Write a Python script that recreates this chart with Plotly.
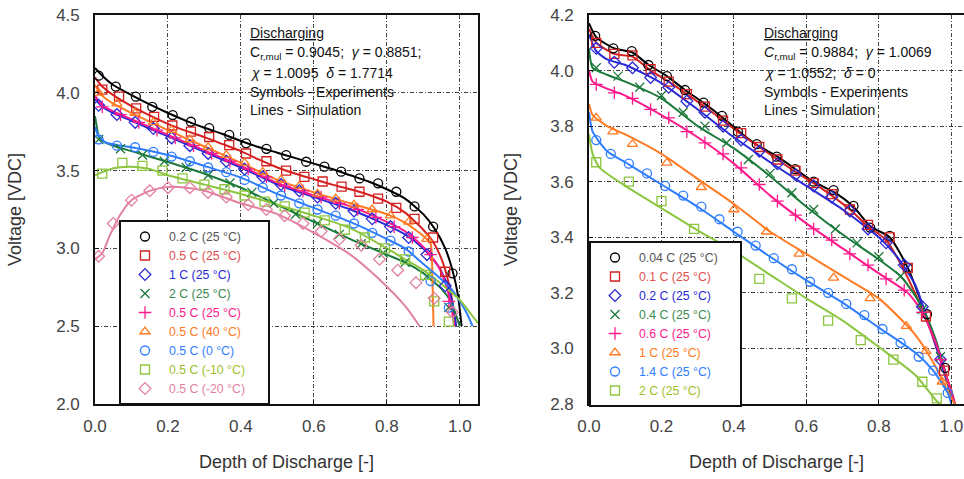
import plotly.graph_objects as go

# ---------------- LEFT PANEL DATA (Depth of discharge [-], Voltage [VDC]) ----------------
L1_sim_d = [0, 0.02, 0.05, 0.1, 0.15, 0.2, 0.25, 0.3, 0.35, 0.4, 0.45, 0.5, 0.55, 0.6, 0.65, 0.7, 0.75, 0.8, 0.85, 0.9, 0.93, 0.96, 0.98, 0.995, 1.005]
L1_sim_v = [4.16, 4.11, 4.05, 3.985, 3.925, 3.87, 3.82, 3.775, 3.735, 3.69, 3.65, 3.615, 3.58, 3.545, 3.51, 3.47, 3.43, 3.38, 3.32, 3.22, 3.13, 3.0, 2.86, 2.7, 2.5]
L1_exp_d = [0.01, 0.057, 0.112, 0.157, 0.213, 0.263, 0.313, 0.368, 0.414, 0.47, 0.524, 0.579, 0.629, 0.675, 0.725, 0.776, 0.826, 0.876, 0.927, 0.98]
L1_exp_v = [4.11, 4.04, 3.975, 3.91, 3.857, 3.814, 3.773, 3.729, 3.675, 3.64, 3.60, 3.557, 3.525, 3.493, 3.45, 3.418, 3.364, 3.27, 3.14, 2.84]

L2_sim_d = [0, 0.02, 0.05, 0.1, 0.15, 0.2, 0.25, 0.3, 0.35, 0.4, 0.45, 0.5, 0.55, 0.6, 0.65, 0.7, 0.75, 0.8, 0.85, 0.9, 0.93, 0.955, 0.975, 0.99]
L2_sim_v = [4.10, 4.04, 3.985, 3.915, 3.855, 3.80, 3.755, 3.715, 3.67, 3.625, 3.57, 3.52, 3.48, 3.445, 3.41, 3.38, 3.345, 3.30, 3.23, 3.12, 3.03, 2.90, 2.72, 2.5]
L2_exp_d = [0.02, 0.066, 0.113, 0.162, 0.212, 0.263, 0.313, 0.368, 0.414, 0.47, 0.524, 0.574, 0.624, 0.676, 0.725, 0.776, 0.826, 0.876, 0.927, 0.96]
L2_exp_v = [4.02, 3.975, 3.90, 3.845, 3.79, 3.75, 3.716, 3.664, 3.61, 3.56, 3.50, 3.46, 3.43, 3.397, 3.364, 3.32, 3.26, 3.19, 3.07, 2.85]

L3_sim_d = [0, 0.02, 0.05, 0.1, 0.2, 0.3, 0.4, 0.5, 0.6, 0.7, 0.8, 0.85, 0.9, 0.94, 0.965, 0.98, 0.99]
L3_sim_v = [3.96, 3.91, 3.87, 3.82, 3.72, 3.62, 3.52, 3.41, 3.33, 3.25, 3.15, 3.09, 3.00, 2.89, 2.77, 2.65, 2.5]
L3_exp_d = [0.01, 0.06, 0.11, 0.16, 0.21, 0.26, 0.31, 0.36, 0.41, 0.46, 0.51, 0.56, 0.61, 0.66, 0.71, 0.76, 0.81, 0.86, 0.91, 0.96]
L3_exp_v = [3.92, 3.86, 3.81, 3.77, 3.71, 3.66, 3.61, 3.56, 3.51, 3.46, 3.41, 3.37, 3.33, 3.29, 3.24, 3.19, 3.14, 3.07, 2.96, 2.76]

L4_sim_d = [0, 0.005, 0.01, 0.02, 0.05, 0.1, 0.2, 0.3, 0.4, 0.5, 0.6, 0.7, 0.8, 0.85, 0.9, 0.95, 0.975, 0.99, 1.0]
L4_sim_v = [3.85, 3.78, 3.72, 3.69, 3.66, 3.625, 3.555, 3.48, 3.39, 3.28, 3.17, 3.06, 2.96, 2.91, 2.84, 2.74, 2.66, 2.57, 2.5]
L4_exp_d = [0.01, 0.07, 0.13, 0.19, 0.25, 0.31, 0.37, 0.43, 0.49, 0.55, 0.61, 0.67, 0.73, 0.79, 0.85, 0.91, 0.97]
L4_exp_v = [3.70, 3.64, 3.60, 3.56, 3.52, 3.47, 3.42, 3.36, 3.29, 3.22, 3.16, 3.09, 3.03, 2.97, 2.91, 2.82, 2.62]

L5_sim_d = [0, 0.02, 0.05, 0.1, 0.2, 0.3, 0.4, 0.5, 0.6, 0.7, 0.8, 0.85, 0.9, 0.94, 0.96, 0.975, 0.985]
L5_sim_v = [3.98, 3.92, 3.88, 3.83, 3.73, 3.63, 3.53, 3.42, 3.34, 3.27, 3.17, 3.11, 3.01, 2.89, 2.78, 2.65, 2.5]
L5_exp_d = [0.02, 0.07, 0.12, 0.17, 0.22, 0.27, 0.32, 0.37, 0.42, 0.47, 0.52, 0.57, 0.62, 0.67, 0.72, 0.77, 0.82, 0.87, 0.92, 0.97]
L5_exp_v = [3.91, 3.86, 3.81, 3.76, 3.71, 3.66, 3.61, 3.56, 3.51, 3.46, 3.40, 3.37, 3.33, 3.29, 3.25, 3.20, 3.14, 3.07, 2.96, 2.66]

L6_sim_d = [0, 0.02, 0.05, 0.1, 0.2, 0.3, 0.4, 0.5, 0.6, 0.7, 0.8, 0.85, 0.9, 0.92, 0.925, 0.928]
L6_sim_v = [4.05, 3.98, 3.93, 3.87, 3.76, 3.655, 3.55, 3.44, 3.36, 3.29, 3.22, 3.165, 3.08, 3.03, 2.8, 2.5]
L6_exp_d = [0.01, 0.06, 0.11, 0.16, 0.21, 0.26, 0.31, 0.36, 0.41, 0.46, 0.51, 0.56, 0.61, 0.66, 0.71, 0.76, 0.81, 0.86, 0.91]
L6_exp_v = [4.0, 3.93, 3.87, 3.81, 3.76, 3.70, 3.65, 3.60, 3.55, 3.49, 3.44, 3.40, 3.35, 3.32, 3.28, 3.25, 3.21, 3.17, 3.06]

L7_sim_d = [0, 0.01, 0.03, 0.06, 0.1, 0.2, 0.3, 0.4, 0.5, 0.6, 0.7, 0.8, 0.85, 0.9, 0.95, 0.98, 1.0, 1.02, 1.035]
L7_sim_v = [3.78, 3.72, 3.68, 3.665, 3.65, 3.60, 3.53, 3.455, 3.35, 3.26, 3.17, 3.06, 3.0, 2.90, 2.80, 2.73, 2.66, 2.58, 2.5]
L7_exp_d = [0.01, 0.06, 0.11, 0.16, 0.21, 0.26, 0.31, 0.36, 0.41, 0.46, 0.51, 0.56, 0.61, 0.66, 0.71, 0.76, 0.81, 0.86, 0.92, 0.97]
L7_exp_v = [3.70, 3.66, 3.65, 3.62, 3.59, 3.56, 3.52, 3.49, 3.44, 3.39, 3.34, 3.29, 3.25, 3.21, 3.16, 3.10, 3.05, 2.98, 2.79, 2.62]

L8_sim_d = [0, 0.02, 0.05, 0.1, 0.15, 0.2, 0.3, 0.4, 0.5, 0.6, 0.7, 0.8, 0.85, 0.9, 0.95, 1.0, 1.03, 1.05]
L8_sim_v = [3.47, 3.49, 3.515, 3.525, 3.51, 3.47, 3.41, 3.35, 3.28, 3.21, 3.13, 3.0, 2.93, 2.86, 2.77, 2.67, 2.58, 2.52]
L8_exp_d = [0.02, 0.075, 0.13, 0.185, 0.24, 0.3, 0.355, 0.41, 0.465, 0.52, 0.575, 0.63, 0.685, 0.74, 0.795, 0.85, 0.905, 0.93, 0.97]
L8_exp_v = [3.48, 3.55, 3.53, 3.50, 3.45, 3.41, 3.38, 3.34, 3.30, 3.27, 3.23, 3.18, 3.12, 3.07, 3.00, 2.93, 2.83, 2.66, 2.53]

L9_sim_d = [0, 0.02, 0.04, 0.07, 0.1, 0.15, 0.2, 0.25, 0.3, 0.4, 0.5, 0.6, 0.7, 0.78, 0.85, 0.89]
L9_sim_v = [2.93, 2.97, 3.08, 3.22, 3.31, 3.37, 3.395, 3.39, 3.37, 3.29, 3.22, 3.10, 2.96, 2.80, 2.63, 2.5]
L9_exp_d = [0.01, 0.05, 0.1, 0.15, 0.2, 0.26, 0.31, 0.36, 0.42, 0.47, 0.52, 0.57, 0.62, 0.67, 0.73, 0.78, 0.83, 0.88, 0.93, 0.98]
L9_exp_v = [2.95, 3.16, 3.31, 3.37, 3.39, 3.39, 3.36, 3.33, 3.28, 3.25, 3.21, 3.16, 3.11, 3.06, 3.02, 2.93, 2.86, 2.78, 2.68, 2.59]

LEFT_LABELS = ["0.2 C (25 °C)", "0.5 C (25 °C)", "1 C (25 °C)", "2 C (25 °C)", "0.5 C (25 °C)",
               "0.5 C (40 °C)", "0.5 C (0 °C)", "0.5 C (-10 °C)", "0.5 C (-20 °C)"]

# ---------------- RIGHT PANEL DATA ----------------
R1_sim_d = [0, 0.02, 0.07, 0.12, 0.165, 0.215, 0.265, 0.315, 0.365, 0.41, 0.46, 0.52, 0.57, 0.62, 0.68, 0.73, 0.776, 0.83, 0.88, 0.93, 0.98, 1.005]
R1_sim_v = [4.17, 4.12, 4.08, 4.065, 4.02, 3.98, 3.93, 3.885, 3.835, 3.785, 3.735, 3.69, 3.645, 3.60, 3.56, 3.51, 3.44, 3.40, 3.29, 3.12, 2.93, 2.81]
R1_exp_d = [0.017, 0.067, 0.118, 0.164, 0.215, 0.265, 0.316, 0.367, 0.411, 0.463, 0.518, 0.569, 0.62, 0.675, 0.73, 0.776, 0.83, 0.88, 0.933, 0.983]
R1_exp_v = [4.125, 4.08, 4.07, 4.02, 3.98, 3.93, 3.885, 3.837, 3.78, 3.735, 3.69, 3.645, 3.60, 3.57, 3.513, 3.435, 3.405, 3.29, 3.123, 2.93]

R2_sim_d = [0, 0.02, 0.07, 0.12, 0.17, 0.22, 0.27, 0.32, 0.37, 0.42, 0.47, 0.52, 0.57, 0.62, 0.67, 0.72, 0.77, 0.82, 0.87, 0.93, 0.98, 1.0, 1.01]
R2_sim_v = [4.15, 4.10, 4.06, 4.05, 4.0, 3.96, 3.915, 3.87, 3.82, 3.77, 3.725, 3.68, 3.635, 3.595, 3.55, 3.50, 3.44, 3.39, 3.28, 3.11, 2.92, 2.85, 2.80]
R2_exp_d = [0.02, 0.07, 0.12, 0.17, 0.22, 0.27, 0.32, 0.37, 0.42, 0.47, 0.52, 0.57, 0.62, 0.67, 0.72, 0.77, 0.83, 0.88, 0.93, 0.98]
R2_exp_v = [4.10, 4.06, 4.055, 4.005, 3.96, 3.915, 3.87, 3.82, 3.775, 3.725, 3.68, 3.64, 3.595, 3.555, 3.50, 3.445, 3.40, 3.29, 3.115, 2.92]

R3_sim_d = [0, 0.02, 0.05, 0.1, 0.15, 0.2, 0.3, 0.4, 0.5, 0.6, 0.7, 0.8, 0.85, 0.9, 0.93, 0.96, 0.99, 1.01]
R3_sim_v = [4.13, 4.07, 4.04, 4.02, 3.99, 3.955, 3.86, 3.76, 3.67, 3.585, 3.50, 3.40, 3.33, 3.23, 3.12, 3.0, 2.87, 2.80]
R3_exp_d = [0.02, 0.07, 0.12, 0.17, 0.22, 0.27, 0.32, 0.37, 0.42, 0.47, 0.52, 0.57, 0.62, 0.67, 0.72, 0.77, 0.82, 0.87, 0.92, 0.97]
R3_exp_v = [4.08, 4.03, 4.01, 3.975, 3.94, 3.89, 3.85, 3.80, 3.75, 3.71, 3.665, 3.625, 3.585, 3.545, 3.495, 3.43, 3.38, 3.30, 3.15, 2.96]

R4_sim_d = [0, 0.01, 0.05, 0.1, 0.2, 0.3, 0.4, 0.5, 0.6, 0.7, 0.8, 0.86, 0.9, 0.93, 0.96, 1.0, 1.01]
R4_sim_v = [4.08, 4.01, 3.985, 3.96, 3.90, 3.80, 3.72, 3.62, 3.51, 3.41, 3.32, 3.26, 3.19, 3.12, 3.02, 2.83, 2.80]
R4_exp_d = [0.02, 0.08, 0.14, 0.2, 0.26, 0.32, 0.38, 0.44, 0.5, 0.56, 0.62, 0.68, 0.74, 0.8, 0.86, 0.92, 0.97]
R4_exp_v = [4.01, 3.98, 3.94, 3.91, 3.85, 3.80, 3.74, 3.68, 3.63, 3.56, 3.50, 3.43, 3.38, 3.33, 3.26, 3.14, 2.97]

R5_sim_d = [0, 0.01, 0.05, 0.1, 0.2, 0.3, 0.4, 0.5, 0.6, 0.7, 0.8, 0.88, 0.92, 0.96, 1.0, 1.01]
R5_sim_v = [4.0, 3.96, 3.935, 3.91, 3.84, 3.76, 3.665, 3.55, 3.45, 3.36, 3.27, 3.20, 3.13, 3.01, 2.84, 2.80]
R5_exp_d = [0.02, 0.07, 0.12, 0.17, 0.22, 0.27, 0.32, 0.37, 0.42, 0.47, 0.52, 0.57, 0.62, 0.67, 0.72, 0.77, 0.82, 0.87, 0.92, 0.97]
R5_exp_v = [3.95, 3.92, 3.90, 3.86, 3.83, 3.78, 3.74, 3.70, 3.65, 3.59, 3.53, 3.48, 3.43, 3.39, 3.34, 3.30, 3.25, 3.21, 3.13, 2.96]

R6_sim_d = [0, 0.01, 0.05, 0.1, 0.2, 0.3, 0.4, 0.5, 0.6, 0.7, 0.8, 0.9, 0.95, 1.0, 1.01]
R6_sim_v = [3.88, 3.84, 3.80, 3.77, 3.70, 3.61, 3.52, 3.42, 3.34, 3.26, 3.18, 3.05, 2.95, 2.82, 2.80]
R6_exp_d = [0.02, 0.066, 0.12, 0.215, 0.31, 0.40, 0.49, 0.58, 0.675, 0.776, 0.876, 0.93, 0.975]
R6_exp_v = [3.83, 3.78, 3.735, 3.668, 3.58, 3.50, 3.42, 3.34, 3.254, 3.18, 3.08, 2.99, 2.88]

R7_sim_d = [0, 0.01, 0.05, 0.1, 0.2, 0.3, 0.4, 0.5, 0.6, 0.7, 0.8, 0.9, 0.95, 0.99, 1.0]
R7_sim_v = [3.85, 3.78, 3.71, 3.67, 3.59, 3.51, 3.42, 3.33, 3.245, 3.165, 3.075, 2.985, 2.92, 2.84, 2.80]
R7_exp_d = [0.02, 0.06, 0.11, 0.16, 0.21, 0.26, 0.31, 0.36, 0.41, 0.46, 0.51, 0.56, 0.61, 0.66, 0.71, 0.76, 0.81, 0.86, 0.91, 0.95, 0.99]
R7_exp_v = [3.75, 3.70, 3.665, 3.63, 3.585, 3.55, 3.51, 3.465, 3.42, 3.37, 3.325, 3.285, 3.24, 3.20, 3.16, 3.12, 3.07, 3.02, 2.97, 2.92, 2.84]

R8_sim_d = [0, 0.01, 0.03, 0.1, 0.2, 0.3, 0.4, 0.5, 0.6, 0.7, 0.8, 0.9, 0.96, 0.97]
R8_sim_v = [3.77, 3.70, 3.65, 3.585, 3.505, 3.425, 3.35, 3.265, 3.18, 3.10, 3.005, 2.905, 2.81, 2.80]
R8_exp_d = [0.02, 0.11, 0.2, 0.29, 0.38, 0.47, 0.56, 0.66, 0.75, 0.84, 0.92, 0.96]
R8_exp_v = [3.67, 3.60, 3.53, 3.43, 3.34, 3.25, 3.18, 3.10, 3.03, 2.96, 2.88, 2.82]

RIGHT_LABELS = ["0.04 C (25 °C)", "0.1 C (25 °C)", "0.2 C (25 °C)", "0.4 C (25 °C)",
                "0.6 C (25 °C)", "1 C (25 °C)", "1.4 C (25 °C)", "2 C (25 °C)"]

X_TICKS = [0.0, 0.2, 0.4, 0.6, 0.8, 1.0]

# ---------------- styling ----------------
FONT = "Liberation Sans, Arial, sans-serif"
BLACK, RED, BLUE, DGREEN = "#000000", "#d42020", "#2a2ad6", "#1b7a3a"
MAG, ORANGE, LBLUE, YGREEN, PINK = "#ff1a8c", "#ff7a22", "#2f7dff", "#8cc63e", "#e3829f"

left_series = [
    (L1_sim_d, L1_sim_v, L1_exp_d, L1_exp_v, BLACK, "circle-open", "#555555"),
    (L2_sim_d, L2_sim_v, L2_exp_d, L2_exp_v, RED, "square-open", "#e05050"),
    (L3_sim_d, L3_sim_v, L3_exp_d, L3_exp_v, BLUE, "diamond-open", BLUE),
    (L4_sim_d, L4_sim_v, L4_exp_d, L4_exp_v, DGREEN, "x-thin-open", "#3c8a50"),
    (L5_sim_d, L5_sim_v, L5_exp_d, L5_exp_v, MAG, "cross-thin-open", MAG),
    (L6_sim_d, L6_sim_v, L6_exp_d, L6_exp_v, ORANGE, "triangle-up-open", ORANGE),
    (L7_sim_d, L7_sim_v, L7_exp_d, L7_exp_v, LBLUE, "circle-open", LBLUE),
    (L8_sim_d, L8_sim_v, L8_exp_d, L8_exp_v, YGREEN, "square-open", "#9fbf2a"),
    (L9_sim_d, L9_sim_v, L9_exp_d, L9_exp_v, PINK, "diamond-open", PINK),
]
right_series = [
    (R1_sim_d, R1_sim_v, R1_exp_d, R1_exp_v, BLACK, "circle-open", "#555555"),
    (R2_sim_d, R2_sim_v, R2_exp_d, R2_exp_v, RED, "square-open", "#e05050"),
    (R3_sim_d, R3_sim_v, R3_exp_d, R3_exp_v, BLUE, "diamond-open", BLUE),
    (R4_sim_d, R4_sim_v, R4_exp_d, R4_exp_v, DGREEN, "x-thin-open", "#3c8a50"),
    (R5_sim_d, R5_sim_v, R5_exp_d, R5_exp_v, MAG, "cross-thin-open", MAG),
    (R6_sim_d, R6_sim_v, R6_exp_d, R6_exp_v, ORANGE, "triangle-up-open", ORANGE),
    (R7_sim_d, R7_sim_v, R7_exp_d, R7_exp_v, LBLUE, "circle-open", LBLUE),
    (R8_sim_d, R8_sim_v, R8_exp_d, R8_exp_v, YGREEN, "square-open", "#9fbf2a"),
]

fig = go.Figure()

def add_panel(series, labels, xa, ya, legend, pad):
    # simulation lines first
    for sd, sv, ed, ev, col, sym, tcol in series:
        fig.add_trace(go.Scatter(x=sd, y=sv, mode="lines", xaxis=xa, yaxis=ya,
                                 line=dict(color=col, width=2, shape="spline", smoothing=0.6),
                                 showlegend=False, hoverinfo="skip"))
    for (sd, sv, ed, ev, col, sym, tcol), lab in zip(series, labels):
        fig.add_trace(go.Scatter(x=ed, y=ev, mode="markers", xaxis=xa, yaxis=ya,
                                 marker=dict(symbol=sym, size=9, color=col, line=dict(color=col, width=1.3)),
                                 name=f'<span style="color:{tcol}">{lab}</span>' + "\u00a0" * pad,
                                 legend=legend))

add_panel(left_series, LEFT_LABELS, "x", "y", "legend", 5)
add_panel(right_series, RIGHT_LABELS, "x2", "y2", "legend2", 5)

W, H = 964, 479
T, B = 15, 75
PH = H - T - B

def px_x(p):
    return p / W

def px_y(p):
    return (H - B - p) / PH

axis_common = dict(
    showline=True, linecolor="#111111", linewidth=1.6,
    ticks="inside", ticklen=4, tickcolor="#111111", tickwidth=1,
    showgrid=True, gridcolor="#444444", gridwidth=1, griddash="4px,2px,1px,2px",
    zeroline=False, automargin=False, ticklabeloverflow="allow",
    tickfont=dict(family=FONT, size=17, color="#444444"),
)

fig.update_layout(
    width=W, height=H,
    margin=dict(l=0, r=0, t=T, b=B),
    paper_bgcolor="white", plot_bgcolor="white",
    font=dict(family=FONT, color="#222222"),
    xaxis=dict(domain=[px_x(95), px_x(478)], range=[0, 1.05], tickvals=X_TICKS, tickformat=".1f",
               mirror=True, anchor="y", ticklabelstandoff=6, **axis_common),
    yaxis=dict(domain=[0, 1], range=[2.0, 4.5], dtick=0.5, tickformat=".1f",
               mirror=True, anchor="x", ticklabelstandoff=10, **axis_common),
    xaxis2=dict(domain=[px_x(589), 1.0], range=[0, 1.035], tickvals=X_TICKS, tickformat=".1f",
                mirror=True, anchor="y2", ticklabelstandoff=6, **axis_common),
    yaxis2=dict(domain=[0, 1], range=[2.8, 4.2], dtick=0.2, tickformat=".1f",
                mirror=False, anchor="x2", ticklabelstandoff=10, **axis_common),
    legend=dict(x=px_x(119), y=px_y(220), xanchor="left", yanchor="top",
                bgcolor="white", bordercolor="#111111", borderwidth=2, itemwidth=38,
                font=dict(family=FONT, size=12.3), tracegroupgap=0),
    legend2=dict(x=px_x(589), y=px_y(241), xanchor="left", yanchor="top",
                 bgcolor="white", bordercolor="#111111", borderwidth=2, itemwidth=38,
                 font=dict(family=FONT, size=12.3), tracegroupgap=0),
)

# white boxes behind the parameter text (hide grid lines)
for x0, x1 in [(244, 432), (757, 945)]:
    fig.add_shape(type="rect", xref="paper", yref="paper", layer="between",
                  x0=px_x(x0), x1=px_x(x1), y0=px_y(118), y1=px_y(24),
                  fillcolor="white", line=dict(width=0))

left_text = ["<u>Discharging</u>",
             "C<sub>r,mul</sub> = 0.9045;  <i>γ</i> = 0.8851;",
             "<i>χ</i> = 1.0095  <i>δ</i> = 1.7714",
             "Symbols - Experiments",
             "Lines - Simulation"]
right_text = ["<u>Discharging</u>",
              "<i>C</i><sub>r,mul</sub> = 0.9884;  <i>γ</i> = 1.0069",
              "<i>χ</i> = 1.0552;  <i>δ</i> = 0",
              "Symbols - Experiments",
              "Lines - Simulation"]
line_y = [33, 53, 73, 92, 110]
for x0, lines in [(248, left_text), (762, right_text)]:
    for yy, t in zip(line_y, lines):
        fig.add_annotation(text=t, xref="paper", yref="paper", x=px_x(x0), y=px_y(yy),
                           xanchor="left", yanchor="middle", showarrow=False,
                           font=dict(family=FONT, size=14, color="#111111"))

# axis titles
for cx in [(95 + 478) / 2, (589 + 964) / 2]:
    fig.add_annotation(text="Depth of Discharge [-]", xref="paper", yref="paper",
                       x=px_x(cx), y=px_y(462), xanchor="center", yanchor="middle",
                       showarrow=False, font=dict(family=FONT, size=18, color="#333333"))
for cx in [15, 511]:
    fig.add_annotation(text="Voltage [VDC]", xref="paper", yref="paper",
                       x=px_x(cx), y=px_y(210), xanchor="center", yanchor="middle",
                       textangle=-90, showarrow=False,
                       font=dict(family=FONT, size=18, color="#333333"))

# the page body has a default 8 px margin; remove it so the figure fills the window exactly
fig.write_html("out.html", config={"displayModeBar": False},
               post_script="document.body.style.margin='0px';")
